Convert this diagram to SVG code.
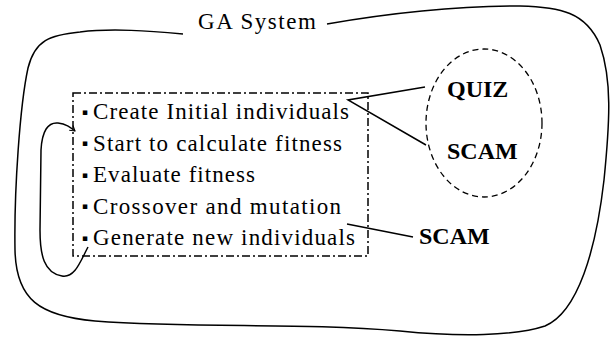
<svg xmlns="http://www.w3.org/2000/svg" width="612" height="348" viewBox="0 0 612 348">
<style>
.ln{fill:none;stroke:#000;stroke-width:1.5}
.t{font-family:"Liberation Serif","Times New Roman",serif;font-size:23px;fill:#000}
.b{font-family:"DejaVu Sans",sans-serif;font-size:9px}
.bd{font-family:"Liberation Serif","Times New Roman",serif;font-size:24px;font-weight:bold;fill:#000}
</style>
<defs>
<marker id="ah" markerWidth="8" markerHeight="8" refX="6" refY="4" orient="auto" markerUnits="userSpaceOnUse">
<path d="M1,1 L6,4 L1,7" fill="none" stroke="#000" stroke-width="1"/>
</marker>
</defs>
<g id="ga-system">
<path class="ln" d="M183,34 C150,31 112,28 80,32 C50,35 35,40 28,68 C20,105 14,190 15,250 C16,300 40,316 95,321 C200,329 300,322 400,331 C460,337 515,336 545,326 C578,312 596,250 604,180 C610,120 612,80 600,45 C586,12 560,7 520,6 C450,6 385,14 327,24"/>
<text class="t" x="198" y="29" textLength="118" lengthAdjust="spacing">GA System</text>
</g>
<g id="steps">
<rect x="73" y="93" width="295" height="163" fill="none" stroke="#000" stroke-width="1.5" stroke-dasharray="8,3,2,3"/>
<text class="t"><tspan class="b" x="82" y="114.5">▪</tspan><tspan x="93" y="119" textLength="256" lengthAdjust="spacing">Create Initial individuals</tspan></text>
<text class="t"><tspan class="b" x="82" y="146">▪</tspan><tspan x="93" y="150.5" textLength="249" lengthAdjust="spacing">Start to calculate fitness</tspan></text>
<text class="t"><tspan class="b" x="82" y="177.5">▪</tspan><tspan x="93" y="182" textLength="162" lengthAdjust="spacing">Evaluate fitness</tspan></text>
<text class="t"><tspan class="b" x="82" y="209">▪</tspan><tspan x="93" y="213.5" textLength="248" lengthAdjust="spacing">Crossover and mutation</tspan></text>
<text class="t"><tspan class="b" x="82" y="240.5">▪</tspan><tspan x="93" y="245" textLength="262" lengthAdjust="spacing">Generate new individuals</tspan></text>
</g>
<g id="quiz-scam">
<ellipse cx="484" cy="123" rx="58" ry="74" fill="none" stroke="#000" stroke-width="1.3" stroke-dasharray="6,4"/>
<text class="bd" x="447" y="97">QUIZ</text>
<text class="bd" x="447" y="159">SCAM</text>
</g>
<g id="scam">
<text class="bd" x="419" y="244">SCAM</text>
</g>
<g id="connectors">
<path class="ln" d="M425,87 L348,100 L426,145"/>
<path class="ln" d="M347,224 L413,237"/>
<path class="ln" d="M88,247 C80,262 75,278 62,276 C44,273 40,255 40,230 L41,150 C42,131 48,122 58,123 C66,124 70,127 75,131" marker-end="url(#ah)"/>
</g>
</svg>
